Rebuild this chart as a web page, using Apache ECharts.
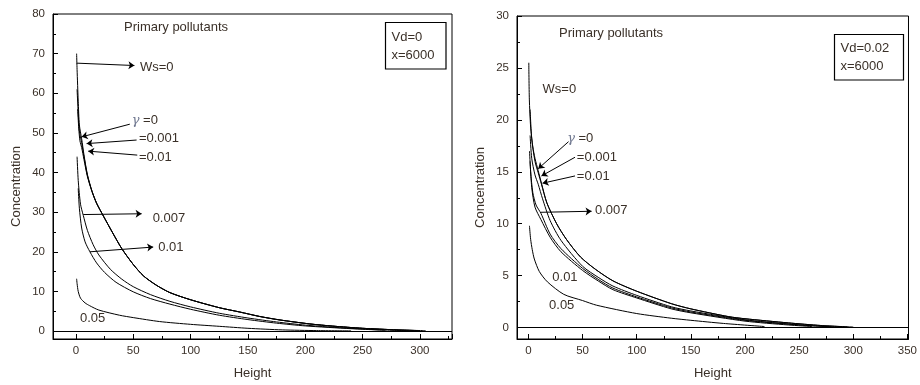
<!DOCTYPE html>
<html>
<head>
<meta charset="utf-8">
<script src="https://cdn.jsdelivr.net/npm/echarts@6/dist/echarts.min.js"></script>
<style>
html, body { margin: 0; padding: 0; background: #fff; }
#chart { width: 920px; height: 385px; }
</style>
</head>
<body>
<div id="chart"></div>
<script>
// [height, concentration] pairs

// left panel, Vd=0
const leftWs0Gamma0 = [[0.6,70],[1,66],[2,58],[3,52],[5,48.5],[7,44.5],[10,39.5],[14,35.3],[18,32.3],[24,29],[32,24.8],[40,20.8],[50,16.8],[59,13.9],[70,11.6],[82,9.7],[100,7.9],[125,5.9],[143,4.8],[160,3.7],[178,2.8],[204,1.8],[224,1.25],[250,0.7],[280,0.3],[305,0.1]];
const leftWs0Gamma001 = [[1,61],[2,55],[3,50.5],[5,47.5],[7,44],[10,39.3],[14,35.3],[18,32.3],[24,29],[32,24.8],[40,20.8],[50,16.8],[59,13.9],[70,11.6],[82,9.7],[100,7.9],[125,5.9],[143,4.8],[160,3.7],[178,2.8],[204,1.8],[224,1.25],[250,0.7],[280,0.3],[300,0.12]];
const leftWs0Gamma01 = [[1.5,56],[2.5,51],[3.5,48],[5,46.3],[7,43.3],[10,39],[14,35.2],[18,32.2],[24,29],[32,24.8],[40,20.8],[50,16.8],[59,13.9],[70,11.6],[82,9.7],[100,7.9],[125,5.9],[143,4.8],[160,3.7],[178,2.8],[204,1.8],[224,1.25],[250,0.7],[280,0.3],[295,0.15]];
const leftWs007 = [[1,44],[2,38],[4,32],[6.4,29.2],[10,25.4],[15,21.8],[20,19.2],[30,15.6],[40,13.1],[50,11.2],[65,9.2],[82,7.5],[100,6.1],[125,4.5],[150,3.3],[175,2.3],[200,1.5],[230,0.85],[265,0.3],[290,0.1]];
const leftWs01 = [[2,36],[3,31],[5,26],[8,22.5],[12.2,20],[18,17.2],[25,14.8],[35,12.3],[50,9.9],[65,8.2],[82,6.8],[100,5.5],[125,4],[150,2.9],[175,2],[200,1.3],[240,0.6],[270,0.2]];
const leftWs05 = [[0.6,13.2],[1,12],[2,10],[4,8.3],[8,7.1],[12,6.4],[20,5.3],[38,4],[50,3.4],[73,2.4],[100,1.7],[125,1.2],[150,0.7],[180,0.3],[210,0.12],[240,0.05]];

// right panel, Vd=0.02
const rightWs0Gamma0 = [[0.3,25.5],[0.8,22],[2,19.3],[4,17.4],[6,16.3],[9,15.1],[12,13.9],[17,12],[26,10],[35,8.5],[48,6.8],[62,5.6],[78,4.5],[100,3.5],[132,2.3],[150,1.8],[185,1.05],[200,0.85],[240,0.45],[270,0.2],[300,0.05]];
const rightWs0Gamma001 = [[1.5,21],[3,18.2],[6,16],[9,14.9],[12,13.8],[17,12],[26,10],[35,8.5],[48,6.8],[62,5.6],[78,4.5],[100,3.5],[132,2.3],[150,1.8],[185,1.05],[200,0.85],[240,0.45],[270,0.2],[295,0.06]];
const rightWs0Gamma01 = [[1.5,18.5],[3,16.3],[6,14.7],[9,13.8],[13,12.4],[20,10.3],[30,8.4],[50,5.9],[65,4.8],[78,4],[100,3.1],[132,2],[150,1.6],[200,0.75],[240,0.35],[265,0.15],[285,0.05]];
const rightWs007 = [[1,17],[2,15],[4,13],[7,11.8],[11.5,11],[20,9],[30,7.6],[50,5.7],[65,4.6],[78,3.8],[100,2.95],[132,1.9],[150,1.5],[200,0.7],[250,0.25],[280,0.08]];
const rightWs01 = [[1.5,16],[3,13.5],[6,11.6],[11.5,10.4],[20,8.7],[30,7.3],[50,5.5],[65,4.45],[78,3.65],[100,2.85],[132,1.8],[150,1.42],[200,0.62],[240,0.25],[262,0.1]];
const rightWs05 = [[0.9,9.8],[2,8.5],[3.5,7.5],[5.4,6.6],[10,5.4],[17.5,4.4],[32.6,3.2],[50,2.6],[63,2.15],[100,1.35],[132,0.9],[150,0.7],[180,0.4],[218,0.1]];

// annotation arrows [from, to] and labels [text, height, concentration]
const leftArrows = [[[0.6,67.6],[51,67]],[[47,52.2],[5,49]],[[52.9,48.2],[9.3,47.3]],[[53.5,44.4],[10.7,45.4]],[[6.4,29.4],[57.3,29.6]],[[12.2,20],[67.4,21.2]]];
const leftLabels = [['Ws=0',55.8,66.5],['{g|γ} =0',48.6,53.2],['=0.001',54.9,48.6],['=0.01',54.9,43.9],['0.007',66.9,28.4],['0.01',71.8,21.2],['0.05',3.5,3.1]];
const rightArrows = [[[37,17.9],[9,15.3]],[[43,16.4],[12,14.6]],[[43,14.6],[13,13.9]],[[11.5,11.1],[58.3,11.2]]];
const rightLabels = [['Ws=0',13,22.9],['{g|γ} =0',35.7,18.2],['=0.001',44.7,16.4],['=0.01',44.7,14.6],['0.007',61.4,11.25],['0.01',22,4.8],['0.05',19,2.1]];

const textColor = '#3a3028';
const font = '"Liberation Sans", Arial, sans-serif';

function curve(data, idx) {
  return {
    type: 'line',
    xAxisIndex: idx,
    yAxisIndex: idx,
    data: data,
    showSymbol: false,
    smooth: 0.25,
    lineStyle: { color: '#000', width: 1 },
    silent: true
  };
}

function withNotes(s, arrows, labels) {
  s.markLine = {
    silent: true,
    symbol: ['none', 'arrow'],
    symbolSize: 6,
    lineStyle: { color: '#000', width: 1, type: 'solid' },
    label: { show: false },
    data: arrows.map(a => [{ coord: a[0] }, { coord: a[1] }])
  };
  s.markPoint = {
    silent: true,
    symbol: 'circle',
    symbolSize: 0,
    label: {
      show: true,
      position: 'right',
      distance: 0,
      color: textColor,
      fontSize: 13,
      fontFamily: font,
      formatter: p => p.name,
      rich: { g: { fontStyle: 'italic', color: '#707890', fontSize: 13, fontFamily: 'DejaVu Serif' } }
    },
    data: labels.map(l => ({ name: l[0], coord: [l[1], l[2]] }))
  };
  return s;
}

function zeroLine(s) {
  s.markLine = {
    silent: true,
    symbol: 'none',
    lineStyle: { color: '#000', width: 1, type: 'solid' },
    label: { show: false },
    data: [{ yAxis: 0 }]
  };
  return s;
}

function xAxis(idx, min, max) {
  return {
    gridIndex: idx, type: 'value', min: min, max: max,
    minInterval: 50, maxInterval: 50,
    axisLine: { show: true, onZero: false, lineStyle: { color: '#000', width: 1 } },
    axisTick: { show: true, inside: true, length: 5, lineStyle: { color: '#000' } },
    minorTick: { show: true, splitNumber: 2, length: 3, lineStyle: { color: '#000' } },
    splitLine: { show: false },
    axisLabel: { color: textColor, fontSize: 11.5, margin: 6, showMinLabel: false, showMaxLabel: false },
    name: 'Height', nameLocation: 'middle', nameGap: 28,
    nameTextStyle: { color: textColor, fontSize: 13 }
  };
}

function yAxis(idx, min, max, step) {
  return {
    gridIndex: idx, type: 'value', min: min, max: max,
    minInterval: step, maxInterval: step,
    axisLine: { show: true, onZero: false, lineStyle: { color: '#000', width: 1 } },
    axisTick: { show: true, inside: true, length: 5, lineStyle: { color: '#000' } },
    minorTick: { show: true, splitNumber: 2, length: 3, lineStyle: { color: '#000' } },
    splitLine: { show: false },
    axisLabel: { color: textColor, fontSize: 11.5, margin: 8, showMinLabel: false },
    name: 'Concentration', nameLocation: 'middle', nameGap: 30,
    nameTextStyle: { color: textColor, fontSize: 13, padding: [0, 20, 0, 0] }
  };
}

function note(text, x, y) {
  return { type: 'text', x: x, y: y, silent: true,
    style: { text: text, fill: textColor, fontSize: 13, fontFamily: font, verticalAlign: 'middle', align: 'left' } };
}

function box(x, y, w, h) {
  return { type: 'rect', silent: true, shape: { x: x, y: y, width: w, height: h },
    style: { fill: 'none', stroke: '#000', lineWidth: 1.2 } };
}

const chart = echarts.init(document.getElementById('chart'));

chart.setOption({
  animation: false,
  textStyle: { fontFamily: font },
  grid: [
    { left: 53, top: 14, width: 399, height: 325, show: true, borderColor: '#000', borderWidth: 1 },
    { left: 517, top: 16, width: 398, height: 326, show: true, borderColor: '#000', borderWidth: 1 }
  ],
  xAxis: [xAxis(0, -20, 328), xAxis(1, -10.6, 351)],
  yAxis: [yAxis(0, -2, 80, 10), yAxis(1, -1.1, 30, 5)],
  series: [
    withNotes(curve(leftWs0Gamma0, 0), leftArrows, leftLabels),
    zeroLine(curve(leftWs0Gamma001, 0)),
    curve(leftWs0Gamma01, 0),
    curve(leftWs007, 0),
    curve(leftWs01, 0),
    curve(leftWs05, 0),
    withNotes(curve(rightWs0Gamma0, 1), rightArrows, rightLabels),
    zeroLine(curve(rightWs0Gamma001, 1)),
    curve(rightWs0Gamma01, 1),
    curve(rightWs007, 1),
    curve(rightWs01, 1),
    curve(rightWs05, 1)
  ],
  graphic: [
    note('Primary pollutants', 124, 27),
    box(385.5, 22.5, 60.5, 46.5),
    note('Vd=0', 391.5, 37),
    note('x=6000', 391.5, 55),
    note('Primary pollutants', 559, 33),
    box(834.5, 34.5, 69, 45.5),
    note('Vd=0.02', 840.5, 48.5),
    note('x=6000', 840.5, 66)
  ]
});
</script>
</body>
</html>
